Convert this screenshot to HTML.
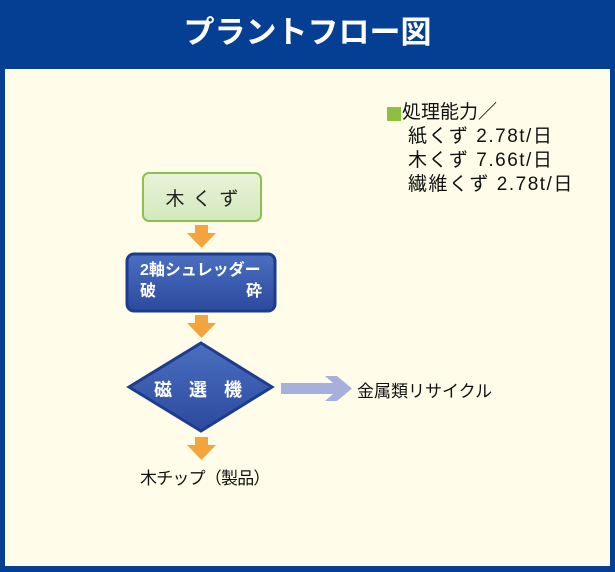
<!DOCTYPE html>
<html><head><meta charset="utf-8"><style>
body{margin:0;width:615px;height:572px;background:#043f93;position:relative;overflow:hidden;font-family:"Liberation Sans","Noto Sans CJK JP",sans-serif}
.t{position:absolute;white-space:nowrap}
</style></head><body>
<div class="t" style="left:0;width:615px;top:11px;text-align:center;color:#fff;font-size:31px;line-height:44px;font-weight:bold">プラントフロー図</div>
<div style="position:absolute;left:5px;top:69px;width:605px;height:497px;background:#fffde9"></div>
<svg style="position:absolute;left:0;top:0" width="615" height="572">
<defs>
<linearGradient id="b" x1="0" y1="0" x2="0" y2="1"><stop offset="0" stop-color="#4b6fc0"/><stop offset="1" stop-color="#2c4a9e"/></linearGradient>
<linearGradient id="g" x1="0" y1="0" x2="0" y2="1"><stop offset="0" stop-color="#e8f3d8"/><stop offset="1" stop-color="#d3e9bd"/></linearGradient>
</defs>
<rect x="143" y="173" width="118" height="48" rx="6" fill="url(#g)" stroke="#8cc050" stroke-width="2"/>
<rect x="127" y="254" width="148" height="57" rx="7" fill="url(#b)" stroke="#1d3c8e" stroke-width="3"/>
<polygon points="201,343 272,387 201,431 129,387" fill="url(#b)" stroke="#1d3c8e" stroke-width="3"/>
<g fill="#f4a43c">
<polygon points="195,225 208,225 208,233 216,233 201.5,248 187,233 195,233"/>
<polygon points="195,315 208,315 208,323 216,323 201.5,338 187,323 195,323"/>
<polygon points="195,437 208,437 208,445 216,445 201.5,460 187,445 195,445"/>
</g>
<polygon points="281,383 333,383 325,376 337,376 352,388.5 337,401 325,401 333,394 281,394" fill="#a6b0dc"/>
<rect x="387" y="107" width="14" height="14" fill="#8cc03e"/>
</svg>
<div class="t" style="left:143px;width:118px;top:184px;text-align:center;font-size:19px;color:#222;letter-spacing:8px;padding-left:8px;box-sizing:border-box">木くず</div>
<div class="t" style="left:140px;top:260px;font-size:16px;color:#fff;line-height:21px;font-weight:bold">2軸シュレッダー<br>破<span style="display:inline-block;width:90px"></span>砕</div>
<div class="t" style="left:154px;top:376px;font-size:18px;color:#fff;letter-spacing:17px;font-weight:bold">磁選機</div>
<div class="t" style="left:140px;top:464px;font-size:17px;color:#111;letter-spacing:-0.8px">木チップ（製品）</div>
<div class="t" style="left:357px;top:377px;font-size:17px;color:#111">金属類リサイクル</div>
<div class="t" style="left:402px;top:101px;font-size:19px;color:#111;line-height:24px">処理能力／</div>
<div class="t" style="left:408px;top:125px;font-size:19px;color:#111;line-height:24px;letter-spacing:1.5px">紙くず 2.78t/日<br>木くず 7.66t/日<br>繊維くず 2.78t/日</div>
</body></html>
